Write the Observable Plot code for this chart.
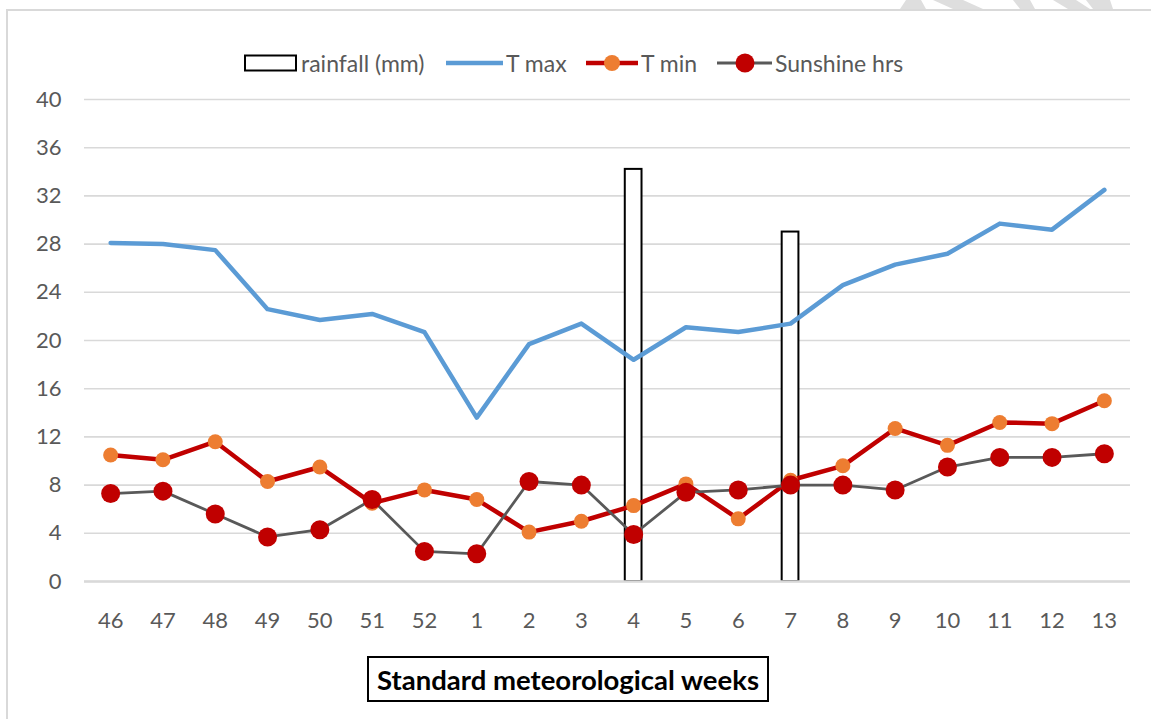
<!DOCTYPE html>
<html>
<head>
<meta charset="utf-8">
<script src="https://cdn.jsdelivr.net/npm/d3@7"></script>
<script src="https://cdn.jsdelivr.net/npm/@observablehq/plot@0.6"></script>
<style>
  html, body { margin: 0; padding: 0; background: #fff; overflow: hidden; }
  body { width: 1151px; height: 719px; position: relative; font-family: Lato, "Open Sans", sans-serif; }
  #frame { position: absolute; left: 6px; top: 9px; width: 1300px; height: 900px;
           border-left: 2px solid #d9d9d9; border-top: 2px solid #d9d9d9; }
  #wm { position: absolute; left: 0; top: 0; }
  #legend { position: relative; height: 80px; width: 1151px; }
  .li { position: absolute; top: 43px; height: 40px; display: flex; align-items: center; }
  .li span { font-size: 23px; color: #595959; margin-left: 3px; line-height: 1; }
  #chart { position: absolute; left: 0; top: 80px; }
  #xtitle { position: absolute; left: 367px; top: 656px; width: 398px; height: 42px;
            border: 2px solid #000; display: flex; align-items: center; justify-content: center;
            font-weight: bold; font-size: 27.5px; color: #000; }
</style>
</head>
<body>
<svg id="wm" width="1151" height="10">
  <polygon points="906,0 921,0 926,9 900,9" fill="#dedede"/>
  <polygon points="933,0 963,0 983,9 953,9" fill="#dedede"/>
  <polygon points="1013,0 1030,0 1035,9 1020,9" fill="#dedede"/>
  <polygon points="1053,0 1076,0 1090,9 1068,9" fill="#dedede"/>
  <polygon points="1086,0 1110,0 1113,9 1093,9" fill="#dedede"/>
</svg>
<div id="frame"></div>
<div id="legend"></div>
<div id="chart"></div>
<div id="xtitle">Standard meteorological weeks</div>
<script>
// ---- data ----
const weeks = ["46","47","48","49","50","51","52","1","2","3","4","5","6","7","8","9","10","11","12","13"];
const rainfall = [0,0,0,0,0,0,0,0,0,0,34.2,0,0,29.0,0,0,0,0,0,0];
const tMax = [28.1,28.0,27.5,22.6,21.7,22.2,20.7,13.6,19.7,21.4,18.4,21.1,20.7,21.4,24.6,26.3,27.2,29.7,29.2,32.5];
const tMin = [10.5,10.1,11.6,8.3,9.5,6.5,7.6,6.8,4.1,5.0,6.3,8.1,5.2,8.4,9.6,12.7,11.3,13.2,13.1,15.0];
const sunshine = [7.3,7.5,5.6,3.7,4.3,6.8,2.5,2.3,8.3,8.0,3.9,7.4,7.6,8.0,8.0,7.6,9.5,10.3,10.3,10.6];
const yTicks = [0,4,8,12,16,20,24,28,32,36,40];
const seriesNames = ["rainfall (mm)","T max","T min","Sunshine hrs"];

const rows = weeks.map((w, i) => ({week: w, rain: rainfall[i], tmax: tMax[i], tmin: tMin[i], sun: sunshine[i]}));

const BLUE = "#5b9bd5", RED = "#c00000", ORANGE = "#ed7d31", GRAY = "#595959";

// ---- legend ----
const legend = document.getElementById("legend");
const items = [
  {left: 244, svg: `<svg width="54" height="18"><rect x="1" y="1.5" width="51" height="15" fill="white" stroke="black" stroke-width="2"/></svg>`},
  {left: 446, svg: `<svg width="57" height="18"><line x1="0" x2="57" y1="9" y2="9" stroke="${BLUE}" stroke-width="4.5"/></svg>`},
  {left: 586, svg: `<svg width="52" height="20"><line x1="0" x2="52" y1="10" y2="10" stroke="${RED}" stroke-width="4.5"/><circle cx="26" cy="10" r="8" fill="${ORANGE}"/></svg>`},
  {left: 717, svg: `<svg width="55" height="22"><line x1="0" x2="55" y1="11" y2="11" stroke="${GRAY}" stroke-width="3"/><circle cx="28" cy="11" r="9.5" fill="${RED}"/></svg>`}
];
items.forEach((it, i) => {
  const d = document.createElement("div");
  d.className = "li";
  d.style.left = it.left + "px";
  d.innerHTML = it.svg + `<span>${seriesNames[i]}</span>`;
  legend.appendChild(d);
});

// ---- chart ----
const chart = Plot.plot({
  width: 1151,
  height: 565,
  marginTop: 19,
  marginBottom: 64,
  marginLeft: 84,
  marginRight: 21,
  style: {fontFamily: "Lato, 'Open Sans', sans-serif", fontSize: "22px", color: "#595959", background: "transparent"},
  x: {domain: weeks, round: false, paddingInner: 0.68, paddingOuter: 0.34, label: null, tickSize: 0, tickPadding: 31},
  y: {domain: [0, 40], ticks: yTicks, label: null, tickSize: 0, tickPadding: 23},
  marks: [
    Plot.gridY(yTicks, {stroke: "#d9d9d9", strokeOpacity: 1, strokeWidth: 1.6}),
    Plot.barY(rows, {filter: d => d.rain > 0, x: "week", y: "rain", fill: "white", stroke: "black", strokeWidth: 2}),
    Plot.ruleY([0], {stroke: "#d9d9d9", strokeWidth: 2.5}),
    Plot.lineY(rows, {x: "week", y: "tmax", stroke: BLUE, strokeWidth: 4.5, strokeLinejoin: "round"}),
    Plot.lineY(rows, {x: "week", y: "tmin", stroke: RED, strokeWidth: 4.5, strokeLinejoin: "round"}),
    Plot.dot(rows, {x: "week", y: "tmin", r: 7.5, fill: ORANGE}),
    Plot.lineY(rows, {x: "week", y: "sun", stroke: GRAY, strokeWidth: 2.8, strokeLinejoin: "round"}),
    Plot.dot(rows, {x: "week", y: "sun", r: 9.5, fill: RED})
  ]
});
document.getElementById("chart").appendChild(chart);
</script>
</body>
</html>
